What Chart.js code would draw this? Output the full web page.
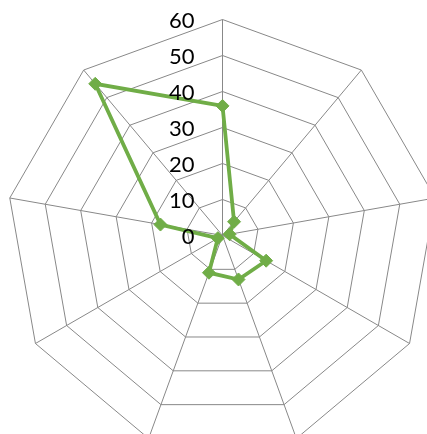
<!DOCTYPE html>
<html>
<head>
<meta charset="utf-8">
<script src="https://cdn.jsdelivr.net/npm/chart.js@4/dist/chart.umd.min.js"></script>
<style>
  html, body { margin: 0; padding: 0; background: #ffffff; overflow: hidden; width: 427px; height: 434px; }
  #wrap { position: absolute; left: 0; top: 0; width: 440px; height: 460px; }
</style>
</head>
<body>
<div id="wrap"><canvas id="radar" width="440" height="460"></canvas></div>
<script>
// Nine spokes, clockwise from the top
const categories = ['1', '2', '3', '4', '5', '6', '7', '8', '9'];
const seriesValues = [36, 5, 2, 14, 13, 11, 1.5, 17.5, 55];
const tickValues = [0, 10, 20, 30, 40, 50, 60];
const tickLabels = ['0', '10', '20', '30', '40', '50', '60'];

const gridColor = '#888888';
const lineColor = '#70ad47';

// Half-pixel shift so the hairline grid lands on whole pixels
const crispLines = {
  id: 'crispLines',
  beforeDraw(chart) { chart.ctx.save(); chart.ctx.translate(0.5, 0.5); },
  afterDraw(chart) { chart.ctx.restore(); }
};

// Axis numbers sit to the left of the vertical spoke, right-aligned
const axisLabels = {
  id: 'axisLabels',
  afterDatasetsDraw(chart) {
    const scale = chart.scales.r;
    const ctx = chart.ctx;
    ctx.save();
    ctx.font = '22px Lato';
    ctx.fillStyle = '#000000';
    ctx.textAlign = 'right';
    ctx.textBaseline = 'middle';
    tickValues.forEach((v, i) => {
      const d = scale.getDistanceFromCenterForValue(v);
      ctx.fillText(tickLabels[i], scale.xCenter - 28, scale.yCenter - d + 1.5);
    });
    ctx.restore();
  }
};

new Chart(document.getElementById('radar'), {
  type: 'radar',
  data: {
    labels: categories,
    datasets: [{
      data: seriesValues,
      borderColor: lineColor,
      backgroundColor: lineColor,
      borderWidth: 3.8,
      fill: false,
      tension: 0,
      pointStyle: 'rectRot',
      pointRadius: 6.5,
      pointBorderWidth: 1,
      pointBorderColor: lineColor,
      pointBackgroundColor: lineColor
    }]
  },
  options: {
    responsive: false,
    animation: false,
    layout: { padding: { left: 6, top: 19, right: 1, bottom: 8 } },
    plugins: { legend: { display: false }, tooltip: { enabled: false } },
    scales: {
      r: {
        min: 0,
        max: 60,
        beginAtZero: true,
        ticks: { stepSize: 10, display: false },
        grid: { circular: false, color: gridColor, lineWidth: 1 },
        angleLines: { display: true, color: gridColor, lineWidth: 1 },
        pointLabels: { display: false }
      }
    }
  },
  plugins: [crispLines, axisLabels]
});
</script>
</body>
</html>
